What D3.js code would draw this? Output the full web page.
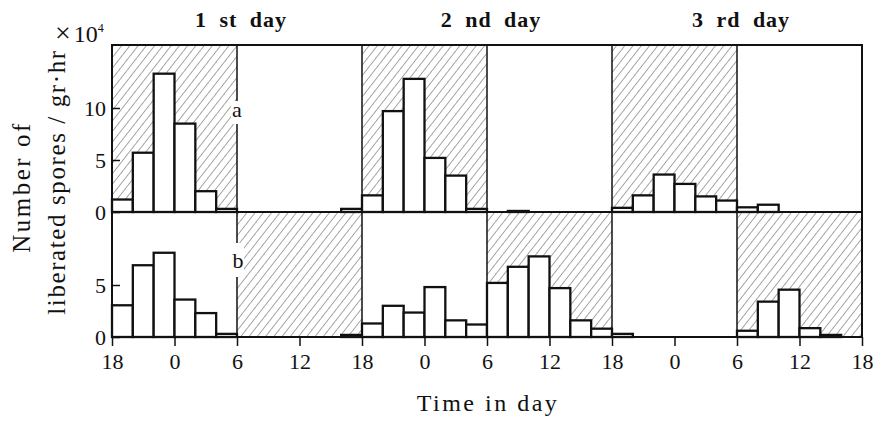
<!DOCTYPE html>
<html>
<head>
<meta charset="utf-8">
<script src="https://cdn.jsdelivr.net/npm/d3@7/dist/d3.min.js"></script>
<style>
  html, body { margin: 0; padding: 0; background: #fff; }
  svg { display: block; }
</style>
</head>
<body>
<svg id="chart" width="873" height="421"></svg>
<script>
// Two-hour bins, measured in hours from 18:00 of the evening before day 1
const binStart = [0, 2, 4, 6, 8, 10, 12, 14, 16, 18, 20, 22,
                  24, 26, 28, 30, 32, 34, 36, 38, 40, 42, 44, 46,
                  48, 50, 52, 54, 56, 58, 60, 62, 64, 66, 68, 70];

// Liberated spores per gr·hr (×10⁴), condition a
const seriesA = [1.2, 5.7, 13.3, 8.5, 2.0, 0.3,   0, 0, 0, 0, 0, 0.3,
                 1.6, 9.7, 12.8, 5.2, 3.5, 0.3,   0, 0.1, 0, 0, 0, 0,
                 0.4, 1.6, 3.6, 2.7, 1.5, 1.1,    0.45, 0.7, 0, 0, 0, 0];

// Liberated spores per gr·hr (×10⁴), condition b
const seriesB = [3.05, 6.9, 8.1, 3.6, 2.3, 0.3,   0, 0, 0, 0, 0, 0.2,
                 1.3, 3.0, 2.35, 4.8, 1.6, 1.2,   5.2, 6.75, 7.75, 4.7, 1.6, 0.8,
                 0.3, 0, 0, 0, 0, 0,              0.6, 3.4, 4.55, 0.85, 0.2, 0];

// Dark periods (hatched), in the same hour units
const darkA = [[0, 12], [24, 36], [48, 60]];
const darkB = [[12, 24], [36, 48], [60, 72]];

// Axis ticks
const xTickHours  = [0, 6, 12, 18, 24, 30, 36, 42, 48, 54, 60, 66, 72];
const xTickLabels = ["18", "0", "6", "12", "18", "0", "6", "12", "18", "0", "6", "12", "18"];
const yTicksA = [0, 5, 10];
const yTicksB = [0, 5];

const dayTitles = ["1 st day", "2 nd day", "3 rd day"];
const dayCenters = [12, 36, 60];

const SERIF = '"Liberation Serif", "Times New Roman", Times, "DejaVu Serif", serif';

const svg = d3.select("#chart");

const plotLeft = 112, plotRight = 862, plotTop = 45, plotMid = 212, plotBottom = 337;

const x = d3.scaleLinear().domain([0, 72]).range([plotLeft, plotRight]);
const yA = d3.scaleLinear().domain([0, (plotMid - plotTop) / 10.4]).range([plotMid, plotTop]);
const yB = d3.scaleLinear().domain([0, (plotBottom - plotMid) / 10.4]).range([plotBottom, plotMid]);

// Diagonal hatch for dark periods
const defs = svg.append("defs");
defs.append("pattern")
  .attr("id", "hatch")
  .attr("patternUnits", "userSpaceOnUse")
  .attr("width", 6.5).attr("height", 6.5)
  .attr("patternTransform", "rotate(38)")
  .append("line")
  .attr("x1", 0).attr("y1", 0).attr("x2", 0).attr("y2", 6.5)
  .attr("stroke", "#3a3a3a").attr("stroke-width", 0.9);

function drawPanel(dark, series, y) {
  const g = svg.append("g");
  g.selectAll("rect.dark").data(dark).join("rect")
    .attr("class", "dark")
    .attr("x", d => x(d[0]))
    .attr("y", y.range()[1])
    .attr("width", d => x(d[1]) - x(d[0]))
    .attr("height", y.range()[0] - y.range()[1])
    .attr("fill", "url(#hatch)");

  const bars = binStart.map((h, i) => ({ h, v: series[i] })).filter(d => d.v > 0);
  g.selectAll("rect.bar").data(bars).join("rect")
    .attr("class", "bar")
    .attr("x", d => x(d.h))
    .attr("y", d => y(d.v))
    .attr("width", d => x(d.h + 2) - x(d.h))
    .attr("height", d => y(0) - y(d.v))
    .attr("fill", "#fff")
    .attr("stroke", "#111")
    .attr("stroke-width", 2.3);
  return g;
}

drawPanel(darkA, seriesA, yA);
drawPanel(darkB, seriesB, yB);

// Light/dark boundaries
svg.append("g").selectAll("line").data([12, 24, 36, 48, 60]).join("line")
  .attr("x1", d => x(d)).attr("x2", d => x(d))
  .attr("y1", plotTop).attr("y2", plotBottom)
  .attr("stroke", "#111").attr("stroke-width", 1.5);

// Frame and shared baseline
svg.append("rect")
  .attr("x", plotLeft).attr("y", plotTop)
  .attr("width", plotRight - plotLeft).attr("height", plotBottom - plotTop)
  .attr("fill", "none").attr("stroke", "#111").attr("stroke-width", 2);
svg.append("line")
  .attr("x1", plotLeft).attr("x2", plotRight).attr("y1", plotMid).attr("y2", plotMid)
  .attr("stroke", "#111").attr("stroke-width", 2.2);

// Panel letters sit on the boundary line
[["a", 237, 117, 101, 124], ["b", 238, 268, 243, 277]].forEach(([t, cx, by, g0, g1]) => {
  svg.append("rect").attr("x", cx - 6).attr("y", g0).attr("width", 12).attr("height", g1 - g0).attr("fill", "#fff");
  svg.append("text").attr("x", cx).attr("y", by).attr("text-anchor", "middle")
    .style("font-size", "22px").text(t);
});

// X axis
const xAxis = d3.axisBottom(x)
  .tickValues(xTickHours)
  .tickFormat((d, i) => xTickLabels[i])
  .tickSize(9).tickPadding(7);
const gx = svg.append("g").attr("transform", `translate(0,${plotBottom})`).call(xAxis);
gx.select(".domain").remove();
gx.selectAll(".tick line").attr("stroke", "#111").attr("stroke-width", 1.5);
gx.selectAll(".tick text").style("font-size", "22px").attr("fill", "#111");

// Y axes with short inward ticks
function yAxis(scale, ticks) {
  const g = svg.append("g").attr("transform", `translate(${plotLeft},0)`)
    .call(d3.axisLeft(scale).tickValues(ticks).tickFormat(d3.format("d")).tickSize(-8).tickPadding(6));
  g.select(".domain").remove();
  g.selectAll(".tick line").attr("stroke", "#111").attr("stroke-width", 1.5);
  g.selectAll(".tick text").style("font-size", "22px").attr("fill", "#111");
}
yAxis(yA, yTicksA);
yAxis(yB, yTicksB);

// Day titles
svg.append("g").selectAll("text").data(dayTitles).join("text")
  .attr("x", (d, i) => x(dayCenters[i]) + 4)
  .attr("y", 27)
  .attr("text-anchor", "middle")
  .style("font-size", "22px").style("font-weight", "bold")
  .style("letter-spacing", "1px").style("word-spacing", "6px")
  .text(d => d);

// X label
svg.append("text")
  .attr("x", 488).attr("y", 411)
  .attr("text-anchor", "middle")
  .style("font-size", "24px").style("letter-spacing", "2.5px")
  .text("Time in day");

// Y label, two rotated lines plus the upright multiplier
svg.append("text")
  .attr("transform", "translate(30,187) rotate(-90)")
  .attr("text-anchor", "middle")
  .style("font-size", "25px").style("letter-spacing", "2.5px")
  .text("Number of");
svg.append("text")
  .attr("transform", "translate(65,182) rotate(-90)")
  .attr("text-anchor", "middle")
  .style("font-size", "25px").style("letter-spacing", "1.6px")
  .text("liberated spores / gr·hr");
const mult = svg.append("text").attr("x", 55).attr("y", 42).style("font-size", "24px");
mult.append("tspan").style("font-size", "28px").text("×");
mult.append("tspan").attr("dx", 3).text("10");
mult.append("tspan").attr("dy", -10).style("font-size", "12px").text("4");

// One serif face for every label
svg.selectAll("text").style("font-family", SERIF).attr("fill", "#111");
</script>
</body>
</html>
